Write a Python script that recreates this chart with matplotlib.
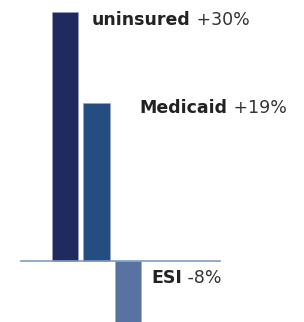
import matplotlib
matplotlib.use("Agg")
import matplotlib.pyplot as plt

# data
categories = ["uninsured", "Medicaid", "ESI"]
changes = [30, 19, -8]
value_labels = ["+30%", "+19%", "-8%"]
colors = ["#1f2a5e", "#244e82", "#5873a2"]

plt.rcParams['font.family'] = ['DejaVu Sans']

fig = plt.figure(figsize=(3.04, 3.22), dpi=100)
ax = fig.add_axes([0, 0, 1, 1])

x = list(range(len(categories)))
ax.bar(x, changes, width=0.83, color=colors, edgecolor="#9aa4bf", linewidth=0.4, zorder=2)

# baseline
ax.plot([-1.4, 4.92], [0, 0], color="#7f9cc8", lw=1.2, zorder=3)

# labels: bold name + regular value, placed beside each bar
label_dx = [0.86, 1.37, 0.74]
label_dy = [-1.0, -0.6, -2.0]
for i, (name, val, lab) in enumerate(zip(categories, changes, value_labels)):
    ty = (val if val > 0 else 0) + label_dy[i]
    t = ax.text(i + label_dx[i], ty, name, fontsize=12.5, fontweight="bold",
                color="#222222", va="center", ha="left")
    ax.annotate(" " + lab, xy=(1, 0.5), xycoords=t, fontsize=12.5,
                color="#333333", va="center", ha="left")

ax.set_xlim(-2.063, 7.587)
ax.set_ylim(-7.35, 31.45)
ax.axis("off")

fig.savefig("out.png", dpi=100)
